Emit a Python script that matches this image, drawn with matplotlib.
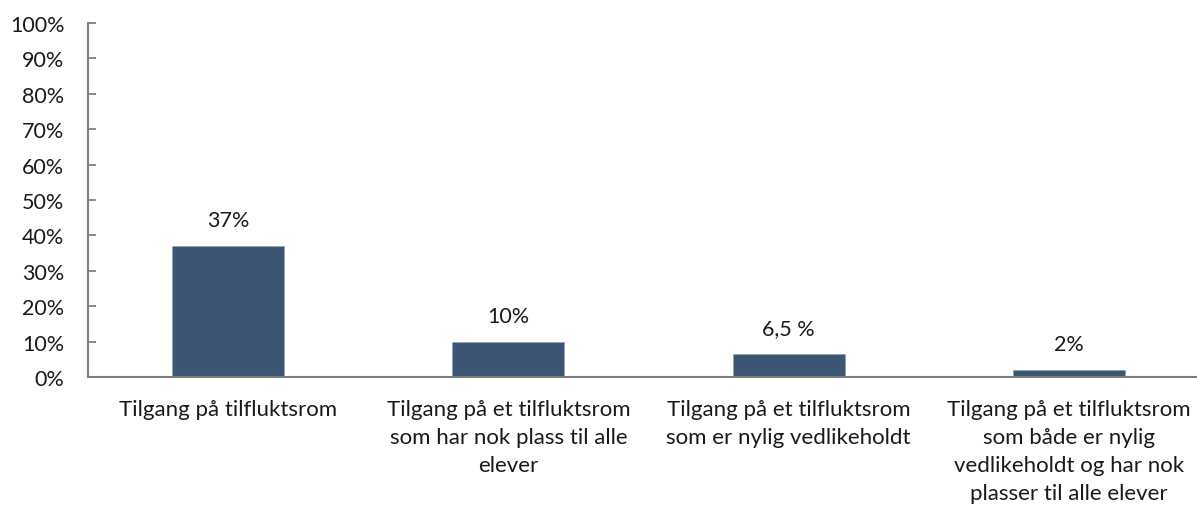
import matplotlib
matplotlib.use("Agg")
import matplotlib.pyplot as plt
from matplotlib.ticker import FuncFormatter

categories = [
    "Tilgang på tilfluktsrom",
    "Tilgang på et tilfluktsrom\nsom har nok plass til alle\nelever",
    "Tilgang på et tilfluktsrom\nsom er nylig vedlikeholdt",
    "Tilgang på et tilfluktsrom\nsom både er nylig\nvedlikeholdt og har nok\nplasser til alle elever",
]
values = [37, 10, 6.5, 2]
value_labels = ["37%", "10%", "6,5 %", "2%"]
yticks = list(range(0, 101, 10))

plt.rcParams['font.family'] = ['Lato', 'DejaVu Sans']

FS = 15.5
fig = plt.figure(figsize=(11.97, 5.06), dpi=100)
ax = fig.add_axes([88/1197, 128/506, (1197-88)/1197, (378-24)/506])
x = list(range(len(categories)))
ax.bar(x, values, width=0.4, color="#3b5573", edgecolor="#8fa3b8", linewidth=0.5)
for xi, v, lab in zip(x, values, value_labels):
    ax.annotate(lab, (xi, v), xytext=(0, 18.5), textcoords="offset points",
                ha="center", va="center", fontsize=FS, color="#1a1a1a")
ax.set_xlim(-0.5, 3.457)
ax.set_ylim(0, 100)
ax.set_yticks(yticks)
ax.yaxis.set_major_formatter(FuncFormatter(lambda v, p: f"{int(v)}%"))
ax.set_xticks(x)
ax.set_xticklabels(categories, fontsize=FS + 0.5, color="#1a1a1a", linespacing=1.5)
ax.tick_params(axis="x", length=0, pad=16)
ax.tick_params(axis="y", direction="in", length=6, width=1.3, color="#7f7f7f",
               labelsize=FS, labelcolor="#1a1a1a", pad=17)
for s in ["top", "right"]:
    ax.spines[s].set_visible(False)
for s in ["left", "bottom"]:
    ax.spines[s].set_color("#7f7f7f")
    ax.spines[s].set_linewidth(1.5)
fig.savefig("out.png", dpi=100)
